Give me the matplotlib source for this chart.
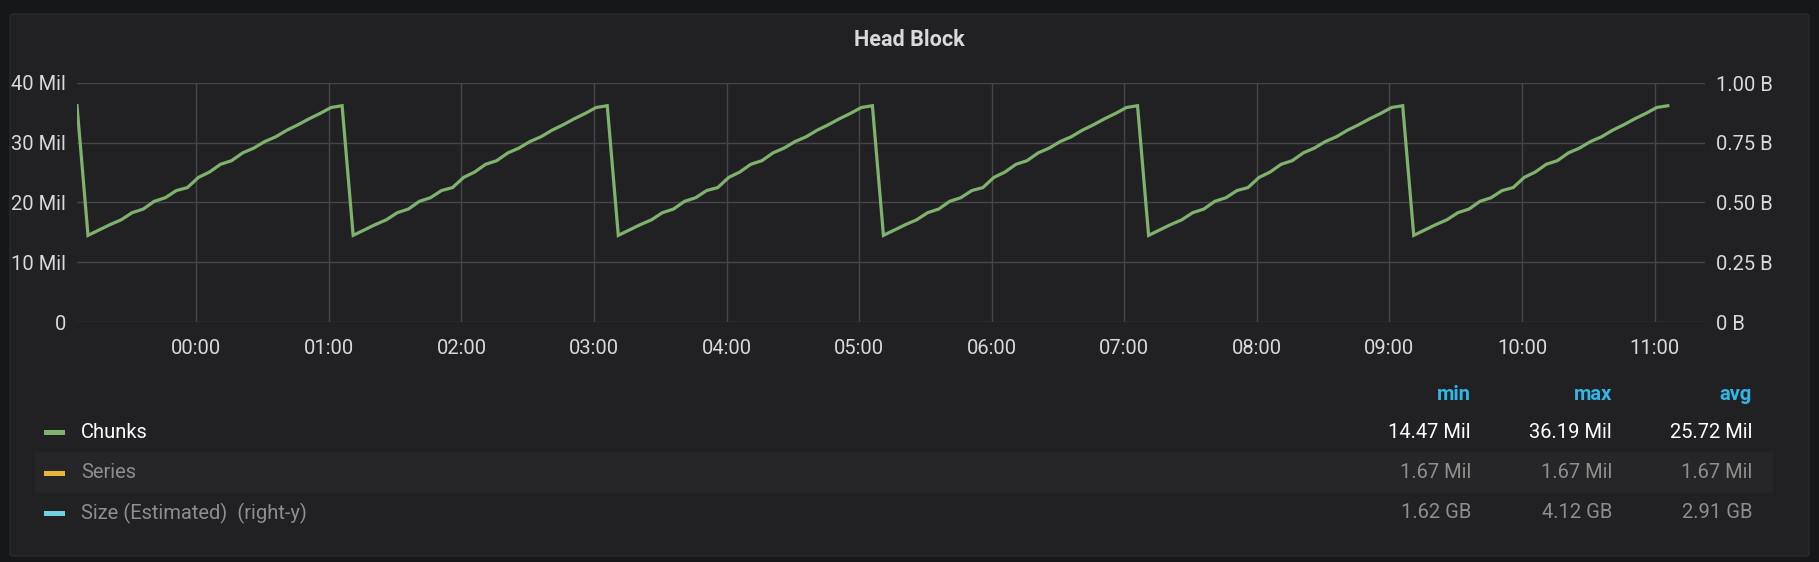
import matplotlib
matplotlib.use("Agg")
import matplotlib.pyplot as plt
from matplotlib.patches import Rectangle, FancyBboxPatch

plt.rcParams["font.family"] = ["Roboto", "DejaVu Sans"]

# hours relative to 00:00; first sample at 23:06 of the previous day
first_t, first_v = -0.9, 36.2
cycle_starts = [-0.817, 1.183, 3.183, 5.183, 7.183, 9.183]
# one ~2h head-block cycle at 5 min steps (Mil chunks)
cycle_vals = [14.5, 15.4, 16.3, 17.1, 18.3, 18.9, 20.2, 20.8, 22.0, 22.5, 24.2, 25.1,
              26.4, 27.0, 28.3, 29.1, 30.2, 31.0, 32.1, 33.0, 34.0, 34.9, 35.9, 36.2]
step_h = 5 / 60

xticks = list(range(0, 12))
xlabels = [f"{h:02d}:00" for h in xticks]
yticks = [0, 10, 20, 30, 40]
ylabels = ["0", "10 Mil", "20 Mil", "30 Mil", "40 Mil"]
rlabels = ["0 B", "0.25 B", "0.50 B", "0.75 B", "1.00 B"]

legend_names = ["Chunks", "Series", "Size (Estimated)  (right-y)"]
legend_colors = ["#7eb26d", "#eab839", "#6ed0e0"]
legend_stats = [["14.47 Mil", "36.19 Mil", "25.72 Mil"],
                ["1.67 Mil", "1.67 Mil", "1.67 Mil"],
                ["1.62 GB", "4.12 GB", "2.91 GB"]]
stat_heads = ["min", "max", "avg"]

t = [first_t]
v = [first_v]
for s in cycle_starts:
    for i, val in enumerate(cycle_vals):
        t.append(s + i * step_h)
        v.append(val)

W, H = 1819, 562
FS = 14.5
fig = plt.figure(figsize=(W / 100, H / 100), dpi=100, facecolor="#161719")
fig.patches.append(FancyBboxPatch((10 / W, 6 / H), (W - 20) / W, (H - 20) / H,
                                  boxstyle="round,pad=0,rounding_size=0.003",
                                  transform=fig.transFigure, fc="#212124", ec="#2a2a2d",
                                  lw=1, zorder=-10))
fig.patches.append(Rectangle((35 / W, 1 - 493 / H), (1773 - 35) / W, 41 / H,
                             transform=fig.transFigure, fc="#262628", ec="none", zorder=-9))

ax = fig.add_axes([77 / W, 1 - 322 / H, (1705 - 77) / W, (322 - 83) / H])
ax.set_facecolor("none")
ax.plot(t, v, color="#7eb26d", lw=2.3, solid_joinstyle="miter", zorder=3)
ax.set_xlim(-0.9, 11.38)
ax.set_ylim(0, 40)
ax.set_xticks(xticks)
ax.set_xticklabels(xlabels)
ax.set_yticks(yticks)
ax.set_yticklabels(ylabels)
ax.grid(True, color="#464649", lw=1)
for sp in ax.spines.values():
    sp.set_visible(False)
ax.tick_params(colors="#d8d9da", labelsize=FS, length=0, pad=8)
ax.tick_params(axis="x", pad=12)
ax2 = ax.twinx()
ax2.set_ylim(0, 1)
ax2.set_yticks([0, 0.25, 0.5, 0.75, 1.0])
ax2.set_yticklabels(rlabels)
for sp in ax2.spines.values():
    sp.set_visible(False)
ax2.tick_params(colors="#d8d9da", labelsize=FS, length=0, pad=8)

fig.text(W / 2 / W, 1 - 40 / H, "Head Block", ha="center", va="center",
         color="#d8d9da", fontsize=15.5, fontweight="bold")

# legend table
col_x = [1471, 1612, 1752]
row_y = [432, 473, 513]
for x, h in zip(col_x, stat_heads):
    fig.text(x / W, 1 - 394 / H, h, ha="right", va="center", color="#33b5e5",
             fontsize=FS, fontweight="bold")
for i, (name, c, stats) in enumerate(zip(legend_names, legend_colors, legend_stats)):
    y = 1 - row_y[i] / H
    tc = "#ffffff" if i == 0 else "#8e8e8e"
    fig.patches.append(Rectangle((44 / W, y - 2.5 / H), 21 / W, 5 / H,
                                 transform=fig.transFigure, fc=c, ec="none"))
    fig.text(81 / W, y, name, ha="left", va="center", color=tc, fontsize=FS)
    for x, s in zip(col_x, stats):
        fig.text(x / W, y, s, ha="right", va="center", color=tc, fontsize=FS)

fig.savefig("out.png", dpi=100, facecolor=fig.get_facecolor())
